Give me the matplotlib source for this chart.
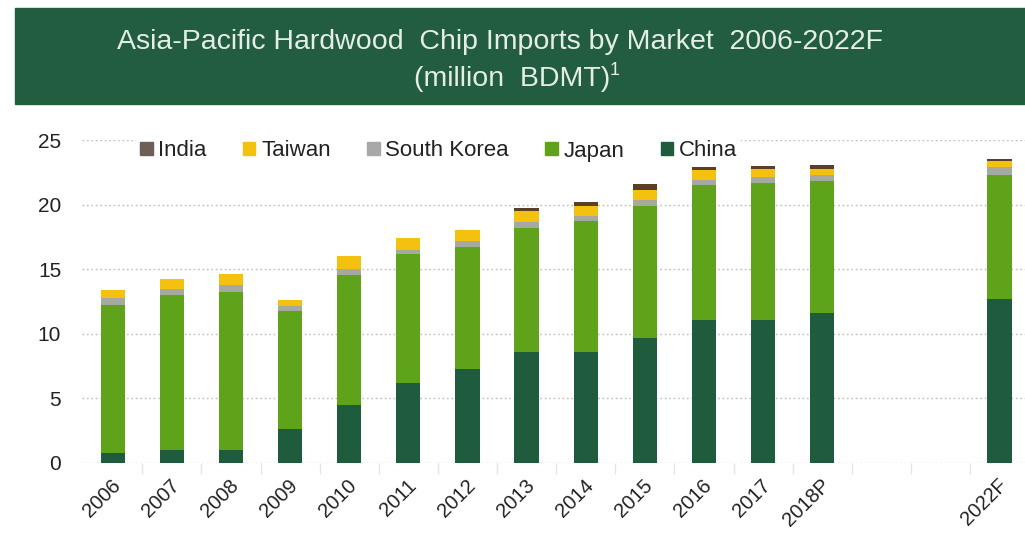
import numpy as np
import matplotlib
matplotlib.use("Agg")
import matplotlib.pyplot as plt
from matplotlib.patches import Patch, Rectangle
from matplotlib.transforms import ScaledTranslation

# hardwood chip imports, million BDMT (two empty slots before the forecast)
years = ["2006", "2007", "2008", "2009", "2010", "2011", "2012", "2013",
         "2014", "2015", "2016", "2017", "2018P", "", "", "2022F"]
china = [0.8, 1.0, 1.0, 2.6, 4.5, 6.2, 7.3, 8.6, 8.6, 9.7, 11.1, 11.1, 11.6,
         0, 0, 12.7]
japan = [11.4, 12.0, 12.2, 9.2, 10.05, 10.0, 9.4, 9.6, 10.1, 10.2, 10.4, 10.55, 10.25,
         0, 0, 9.6]
south_korea = [0.6, 0.45, 0.6, 0.35, 0.45, 0.3, 0.45, 0.45, 0.4, 0.45, 0.4, 0.5, 0.45,
               0, 0, 0.6]
taiwan = [0.6, 0.8, 0.8, 0.45, 1.0, 0.9, 0.85, 0.85, 0.8, 0.8, 0.75, 0.6, 0.45,
          0, 0, 0.5]
india = [0, 0, 0, 0, 0, 0, 0, 0.2, 0.3, 0.45, 0.25, 0.2, 0.35,
         0, 0, 0.15]

series = [("China", china, "#1f5c3e"),
          ("Japan", japan, "#5fa31a"),
          ("South Korea", south_korea, "#a5a9a0"),
          ("Taiwan", taiwan, "#f4c10f"),
          ("India", india, "#5a3f26")]
legend_colors = {"India": "#6e5e58", "South Korea": "#a8a8a8"}

W, H = 1025, 534
plt.rcParams["font.family"] = "Liberation Sans"
fig = plt.figure(figsize=(W / 100, H / 100), dpi=100)

# green header band
fig.patches.append(Rectangle((15 / W, 1 - 104 / H), 1 - 15 / W, 96 / H,
                             transform=fig.transFigure, color="#225d3f", zorder=0))
title_col = "#e4ede6"
fig.text(500 / W, 1 - 49 / H, "Asia-Pacific Hardwood  Chip Imports by Market  2006-2022F",
         ha="center", va="baseline", color=title_col, fontsize=20.5)
fig.text(512 / W, 1 - 86 / H, "(million  BDMT)",
         ha="center", va="baseline", color=title_col, fontsize=20.5)
fig.text(610 / W, 1 - 75 / H, "1", ha="left", va="baseline", color=title_col,
         fontsize=13)

ax = fig.add_axes([82 / W, 1 - 463 / H, 1 - 82 / W, 323 / H])
x = np.arange(len(years))
bottom = np.zeros(len(years))
for name, vals, col in series:
    ax.bar(x, vals, 0.41, bottom=bottom, color=col, zorder=3)
    bottom += np.array(vals)

ax.set_xlim(-0.52, 15.43)
ax.set_ylim(0, 25)
ax.set_yticks(range(0, 26, 5))
ax.grid(axis="y", color="#bdbdbd", linestyle=(0, (1.2, 2)), linewidth=1, zorder=0)
for s in ax.spines.values():
    s.set_visible(False)
ax.tick_params(axis="y", length=0, pad=15, labelsize=15, colors="#222222")

ax.set_xticks(x)
ax.set_xticklabels(years, rotation=45, ha="right", va="top",
                   rotation_mode="anchor", fontsize=14.5, color="#222222")
ax.tick_params(axis="x", length=0, pad=9)
shift = ScaledTranslation(-2 / 100, 0, fig.dpi_scale_trans)
for lab in ax.get_xticklabels():
    lab.set_transform(lab.get_transform() + shift)
ax.set_xticks(x[:-1] + 0.5, minor=True)
ax.tick_params(axis="x", which="minor", length=8, color="#e6e6e6", width=1)

handles = []
for name, vals, col in series[::-1]:
    handles.append(Patch(color=legend_colors.get(name, col), label=name))
leg = ax.legend(handles=handles, ncol=5, loc="center left",
                bbox_to_anchor=(136 / W, 1 - 151 / H), bbox_transform=fig.transFigure,
                borderaxespad=0, frameon=True, fontsize=16,
                handlelength=0.55, handleheight=0.55, handletextpad=0.25,
                columnspacing=1.65, borderpad=0.2)
leg.get_frame().set_edgecolor("none")
leg.get_frame().set_facecolor("white")
leg.get_frame().set_alpha(1)
for t in leg.get_texts():
    t.set_color("#222222")

fig.savefig("out.png", dpi=100)
